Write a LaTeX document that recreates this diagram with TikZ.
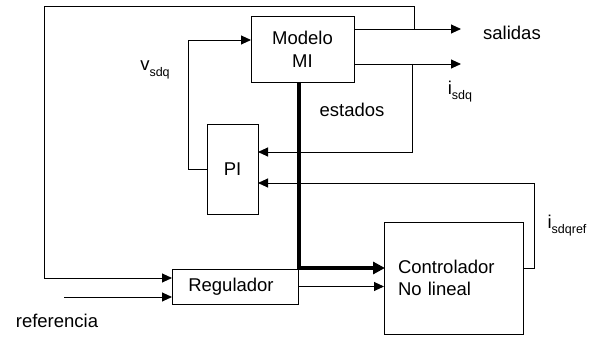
\documentclass[tikz,border=0pt]{standalone}
\usepackage{fontspec}
\setmainfont{Liberation Sans}
\usetikzlibrary{arrows.meta}
\newcommand{\sbs}[1]{\raisebox{-0.28em}{\fontsize{12.5}{13}\selectfont #1}}
\begin{document}
\begin{tikzpicture}[x=1pt,y=-1pt,
  box/.style={draw, line width=0.9pt, inner sep=0pt, outer sep=0pt},
  lbl/.style={inner sep=0pt, font=\fontsize{18.5}{22}\selectfont},
  arr/.style={line width=0.9pt, -{Triangle[length=10pt,width=9pt]}},
  thk/.style={line width=3.6pt, -{Triangle[length=12pt,width=12pt]}, shorten >=-1pt},
  ln/.style={line width=0.9pt}]
\useasboundingbox (0,0) rectangle (595,339);
% blocks
\node[box, minimum width=103pt, minimum height=66pt, align=center, lbl] (model) at (302.5,49) {Modelo\\[1pt]MI};
\node[box, minimum width=51pt, minimum height=90pt, lbl] (pi) at (232.5,169) {PI};
\node[box, minimum width=126pt, minimum height=35pt, lbl] (reg) at (235,286.5) {Regulador\hspace*{8pt}};
\node[box, minimum width=139pt, minimum height=112pt, text width=111pt, align=left, lbl] (ctrl) at (453.5,278) {Controlador\\No lineal};
% coordinates
\coordinate (salEnd) at (461,29);
\coordinate (isdqEnd) at (461,64);
\coordinate (tap1) at (414,29);
\coordinate (topL) at (44,6);
\coordinate (regIn1) at (172,278);
\coordinate (tap2) at (412,64);
\coordinate (piIn1) at (259,152);
\coordinate (vCorner) at (188,40);
\coordinate (thC) at (299,268);
\coordinate (ctrlOut) at (523,268);
\coordinate (fbC) at (534,183);
\coordinate (refStart) at (64,297);
% connectors
\draw[arr] (model.east |- salEnd) -- (salEnd);
\draw[arr] (model.east |- isdqEnd) -- (isdqEnd);
\draw[arr] (tap1) |- (topL) |- (regIn1);
\draw[arr] (tap2) |- (pi.east |- piIn1);
\draw[arr] (pi.west) -| (vCorner) -- (model.west |- vCorner);
\draw[thk] (model.south -| thC) -- (thC) -- (ctrl.west |- thC);
\draw[arr] (reg.east) -- (ctrl.west |- reg.east);
\draw[arr] (ctrlOut) -| (fbC) -- (pi.east |- fbC);
\draw[arr] (refStart) -- (reg.west |- refStart);
% labels
\node[lbl] (sal) at (512,33) {salidas};
\node[lbl] (isdq) at (460,92) {i\sbs{sdq}};
\node[lbl] (est) at (352,110) {estados};
\node[lbl] (vsdq) at (155,70) {v\sbs{sdq}};
\node[lbl] (isdqref) at (567,226) {i\sbs{sdqref}};
\node[lbl] (ref) at (57,321) {referencia};
\end{tikzpicture}
\end{document}
